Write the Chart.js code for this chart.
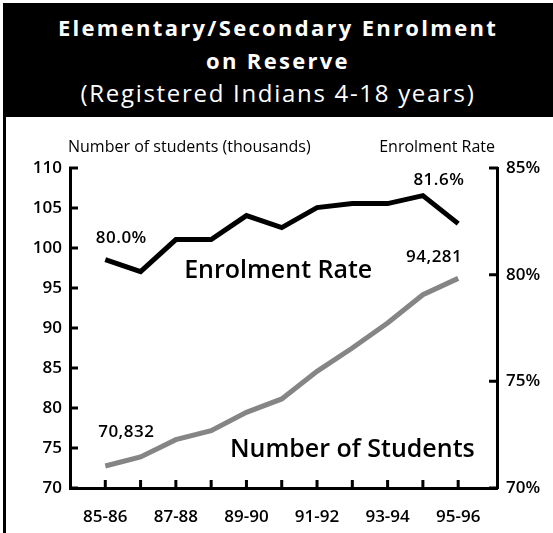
<!DOCTYPE html>
<html>
<head>
<meta charset="utf-8">
<title>Elementary/Secondary Enrolment on Reserve</title>
<script src="https://cdn.jsdelivr.net/npm/chart.js@4"></script>
<style>
  html, body { margin: 0; padding: 0; background: #fff; }
  body { width: 553px; height: 533px; position: relative; overflow: hidden; font-family: "Open Sans", sans-serif; }
  #frame { position: absolute; left: 3px; top: 3px; width: 3px; height: 530px; background: #000; }
  #header {
    position: absolute; left: 3px; top: 3px; width: 550px; height: 114px;
    background: #000; color: #fff; text-align: center;
    box-sizing: border-box; padding: 8px 0 0 0;
  }
  #header .main { font-size: 22px; font-weight: bold; letter-spacing: 2.3px; line-height: 33px; }
  #header .sub { font-size: 24px; font-weight: normal; letter-spacing: 1.7px; line-height: 32px; }
  #chart-box { position: absolute; left: 0; top: 117px; width: 553px; height: 416px; }
</style>
</head>
<body>
<div id="frame"></div>
<div id="header">
  <div class="main">Elementary/Secondary Enrolment</div>
  <div class="main">on Reserve</div>
  <div class="sub">(Registered Indians 4-18 years)</div>
</div>
<div id="chart-box"><canvas id="enrolment-chart" width="553" height="416"></canvas></div>
<script>
// School years, 1985-86 to 1995-96
const seasons = ['85-86', '86-87', '87-88', '88-89', '89-90', '90-91', '91-92', '92-93', '93-94', '94-95', '95-96'];
// Students enrolled on reserve (thousands)
const students = [70.832, 71.96, 74.12, 75.24, 77.53, 79.21, 82.66, 85.58, 88.71, 92.24, 94.281];
// Enrolment rate (%)
const enrolmentRate = [80.0, 79.7, 80.5, 80.5, 81.1, 80.8, 81.3, 81.4, 81.4, 81.6, 80.9];

// Printed axis ticks
const studentTicks = [70, 75, 80, 85, 90, 95, 100, 105, 110];
const rateTicks = [70, 75, 80, 85];

const FONT = '"Open Sans", sans-serif';

// which points get a value label, and where it sits relative to the point
const valueLabels = [
  { dataset: 0, index: 0, dx: 16, dy: -17 },
  { dataset: 0, index: 9, dx: 16, dy: -11 },
  { dataset: 1, index: 0, dx: 21, dy: -29 },
  { dataset: 1, index: 10, dx: -24, dy: -16 }
];

function formatValue(datasetIndex, v) {
  if (datasetIndex === 0) return v.toFixed(1) + '%';
  return Math.round(v * 1000).toLocaleString('en-US');
}

// tick marks that point into the plot
const inwardTicks = {
  id: 'inwardTicks',
  afterDraw(chart) {
    const ctx = chart.ctx, area = chart.chartArea;
    const sx = chart.scales.x, sl = chart.scales.y, sr = chart.scales.y2;
    ctx.save();
    ctx.strokeStyle = '#000';
    ctx.lineWidth = 3;
    ctx.beginPath();
    sx.ticks.forEach(t => {
      const px = sx.getPixelForValue(t.value);
      ctx.moveTo(px, area.bottom);
      ctx.lineTo(px, area.bottom - 8);
    });
    sl.ticks.forEach(t => {
      const py = sl.getPixelForValue(t.value);
      ctx.moveTo(area.left - 1, py);
      ctx.lineTo(area.left + 8, py);
    });
    sr.ticks.forEach(t => {
      const py = sr.getPixelForValue(t.value);
      ctx.moveTo(area.right + 1, py);
      ctx.lineTo(area.right - 8, py);
    });
    ctx.stroke();
    ctx.restore();
  }
};

// axis headings, value labels and the series names inside the plot
const textLayer = {
  id: 'textLayer',
  afterDraw(chart) {
    const ctx = chart.ctx, area = chart.chartArea;
    ctx.save();
    ctx.fillStyle = '#000';
    ctx.textBaseline = 'alphabetic';

    ctx.font = '16px ' + FONT;
    ctx.textAlign = 'left';
    ctx.fillText('Number of students (thousands)', area.left - 2, area.top - 16);
    ctx.textAlign = 'right';
    ctx.fillText('Enrolment Rate', area.right - 2, area.top - 16);

    ctx.font = '600 17px ' + FONT;
    ctx.letterSpacing = '0.5px';
    ctx.textAlign = 'center';
    valueLabels.forEach(l => {
      const pt = chart.getDatasetMeta(l.dataset).data[l.index];
      const v = chart.data.datasets[l.dataset].data[l.index].y;
      ctx.fillText(formatValue(l.dataset, v), pt.x + l.dx, pt.y + l.dy);
    });
    ctx.letterSpacing = '0px';

    const sx = chart.scales.x, sy = chart.scales.y;
    ctx.font = '600 25px ' + FONT;
    ctx.fillText(chart.data.datasets[0].label, sx.getPixelForValue(4.9), sy.getPixelForValue(96.2));
    ctx.fillText(chart.data.datasets[1].label, sx.getPixelForValue(7.0), sy.getPixelForValue(73.9));
    ctx.restore();
  }
};

const ctx = document.getElementById('enrolment-chart').getContext('2d');

new Chart(ctx, {
  type: 'line',
  data: {
    datasets: [
      {
        label: 'Enrolment Rate',
        data: enrolmentRate.map((v, i) => ({ x: i, y: v })),
        yAxisID: 'yRate',
        borderColor: '#000',
        borderWidth: 5,
        borderJoinStyle: 'miter',
        pointRadius: 0,
        tension: 0
      },
      {
        label: 'Number of Students',
        data: students.map((v, i) => ({ x: i, y: v })),
        yAxisID: 'yNum',
        borderColor: '#858585',
        borderWidth: 5,
        borderJoinStyle: 'miter',
        pointRadius: 0,
        tension: 0
      }
    ]
  },
  options: {
    responsive: false,
    animation: false,
    devicePixelRatio: 1,
    layout: { padding: { top: 51, left: 0, right: 0, bottom: 0 } },
    plugins: {
      legend: { display: false },
      tooltip: { enabled: false }
    },
    scales: {
      x: {
        type: 'linear',
        min: -1,
        max: 11.1,
        afterBuildTicks: scale => { scale.ticks = seasons.map((s, i) => ({ value: i })); },
        afterFit: scale => { scale.height = 45; },
        grid: { display: false, drawTicks: false },
        border: { display: true, color: '#000', width: 3 },
        ticks: {
          autoSkip: false,
          maxRotation: 0,
          padding: 19,
          color: '#000',
          font: { family: FONT, size: 17, weight: '600' },
          callback: v => (v % 2 === 0 ? seasons[v] : '')
        }
      },
      y: {
        position: 'left',
        min: 70,
        max: 110,
        afterBuildTicks: scale => { scale.ticks = studentTicks.map(v => ({ value: v })); },
        afterFit: scale => { scale.width = 70; },
        grid: { display: false, drawTicks: false },
        border: { display: true, color: '#000', width: 3 },
        ticks: {
          padding: 8,
          color: '#000',
          font: { family: FONT, size: 17, weight: '600' }
        }
      },
      y2: {
        position: 'right',
        min: 70,
        max: 85,
        afterBuildTicks: scale => { scale.ticks = rateTicks.map(v => ({ value: v })); },
        afterFit: scale => { scale.width = 56; },
        grid: { display: false, drawTicks: false },
        border: { display: true, color: '#000', width: 3 },
        ticks: {
          padding: 9,
          color: '#000',
          font: { family: FONT, size: 17, weight: '600' },
          callback: v => v + '%'
        }
      },
      // plotting scales for the two series
      yNum: { display: false, min: 68.08, max: 108.08 },
      yRate: { display: false, min: 74.29, max: 82.29 }
    }
  },
  plugins: [inwardTicks, textLayer]
});
</script>
</body>
</html>
